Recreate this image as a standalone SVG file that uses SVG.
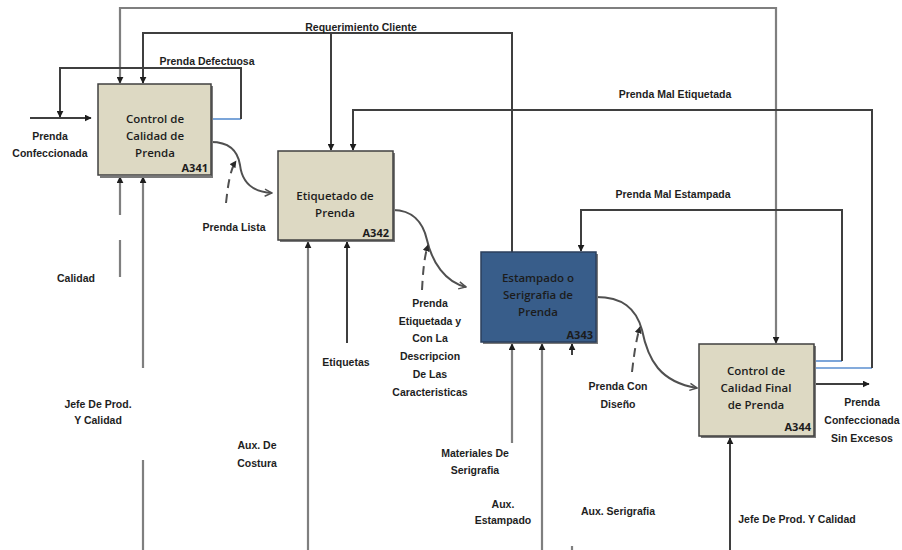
<svg xmlns="http://www.w3.org/2000/svg" width="902" height="550" viewBox="0 0 902 550">
<defs>
<marker id="ah" viewBox="0 0 10 10" refX="9" refY="5" markerWidth="7" markerHeight="7" markerUnits="userSpaceOnUse" orient="auto">
<path d="M0,0 L10,5 L0,10 z" fill="#1e1e1e"/>
</marker>
<marker id="oa" viewBox="0 0 10 10" refX="9" refY="5" markerWidth="9" markerHeight="9" markerUnits="userSpaceOnUse" orient="auto">
<path d="M1,1 L9,5 L1,9" fill="none" stroke="#505050" stroke-width="1.6"/>
</marker>
<marker id="ca" viewBox="0 0 10 10" refX="9" refY="5" markerWidth="7" markerHeight="7" markerUnits="userSpaceOnUse" orient="auto">
<path d="M0,0 L10,5 L0,10 z" fill="#2a2a2a"/>
</marker>
<style>
.box{fill:#ddd9c3;stroke:#404040;stroke-width:1.5}
.boxb{fill:#385d8a;stroke:#2b3f5c;stroke-width:1.5}
.sh{fill:none;stroke:#7a7a7a;stroke-width:2}
.bt{font-family:"Open Sans","Liberation Sans",sans-serif;font-size:11.5px;font-weight:600;fill:#1c1c1c;text-anchor:middle}
.id{font-family:"Open Sans","Liberation Sans",sans-serif;font-size:11px;font-weight:bold;fill:#1c1c1c;text-anchor:end}
.lb{font-family:"Liberation Sans","DejaVu Sans",sans-serif;font-size:10.5px;font-weight:bold;fill:#1e1e1e;text-anchor:middle}
.g{fill:none;stroke:#7f7f7f;stroke-width:2.2}
.d{fill:none;stroke:#3f3f3f;stroke-width:2}
.bl{fill:none;stroke:#5b8fd0;stroke-width:1.6}
.cv{fill:none;stroke:#505050;stroke-width:2}
.dash{fill:none;stroke:#505050;stroke-width:2;stroke-dasharray:9,6}
</style>
</defs>
<g id="connectors">
<path class="g" d="M448,8 H120 V83" marker-end="url(#ah)"/>
<path class="g" d="M448,8 H776 V343" marker-end="url(#ah)"/>
<path class="d" d="M512,252 V33 H143 V83" marker-end="url(#ah)"/>
<path class="d" d="M331,33 V150" marker-end="url(#ah)"/>
<path class="bl" d="M211,119 H241"/>
<path class="d" d="M241,119 V68 H60 V117" marker-end="url(#ah)"/>
<path class="d" d="M30,118 H91" marker-end="url(#ah)"/>
<path class="bl" d="M814,368 H872"/>
<path class="d" d="M872,368 V110 H353 V150" marker-end="url(#ah)"/>
<path class="bl" d="M814,361 H842"/>
<path class="d" d="M842,361 V210 H581 V251" marker-end="url(#ah)"/>
<path class="d" d="M814,384 H869" marker-end="url(#ah)"/>
<path class="g" d="M120,277 V240 M120,215 V177" marker-end="url(#ah)"/>
<path class="g" d="M143,550 V460 M143,368 V177" marker-end="url(#ah)"/>
<path class="g" d="M308,550 V242" marker-end="url(#ah)"/>
<path class="d" d="M347,343 V242" marker-end="url(#ah)"/>
<path class="g" d="M512,443 V344" marker-end="url(#ah)"/>
<path class="g" d="M542,550 V344" marker-end="url(#ah)"/>
<path class="d" d="M572,355 V344" marker-end="url(#ah)"/>
<path class="g" d="M572,546 V550"/>
<path class="d" d="M730,550 V438" marker-end="url(#ah)"/>
<path class="cv" d="M211,142 C230,142 238,152 240,165 C242,182 252,192 272,193" marker-end="url(#oa)"/>
<path class="dash" d="M226,203 C228,185 230,170 236,161" marker-end="url(#ca)"/>
<path class="cv" d="M393,210 C412,210 423,222 427,240 C432,262 445,282 466,287" marker-end="url(#oa)"/>
<path class="dash" d="M422,290 C423,272 424,258 428,245" marker-end="url(#ca)"/>
<path class="cv" d="M596,297 C622,297 636,308 642,330 C648,360 660,382 697,388" marker-end="url(#oa)"/>
<path class="dash" d="M632,372 C634,355 636,340 640,327" marker-end="url(#ca)"/>
</g>
<g id="A341">
<path class="sh" d="M212,86 V177 H100"/>
<rect class="box" x="98" y="84" width="113" height="91"/>
<text class="bt" x="155" y="123">Control de</text>
<text class="bt" x="155" y="140">Calidad de</text>
<text class="bt" x="155" y="157">Prenda</text>
<text class="id" x="208" y="172">A341</text>
</g>
<g id="A342">
<path class="sh" d="M394,153 V241 H280"/>
<rect class="box" x="278" y="151" width="115" height="89"/>
<text class="bt" x="335" y="200">Etiquetado de</text>
<text class="bt" x="335" y="217">Prenda</text>
<text class="id" x="389" y="237">A342</text>
</g>
<g id="A343">
<path class="sh" d="M597,254 V343 H483"/>
<rect class="boxb" x="481" y="252" width="115" height="90"/>
<text class="bt" x="538" y="282">Estampado o</text>
<text class="bt" x="538" y="299">Serigrafia de</text>
<text class="bt" x="538" y="316">Prenda</text>
<text class="id" x="593" y="339">A343</text>
</g>
<g id="A344">
<path class="sh" d="M815,346 V437 H701"/>
<rect class="box" x="699" y="344" width="115" height="92"/>
<text class="bt" x="756" y="375">Control de</text>
<text class="bt" x="756" y="392">Calidad Final</text>
<text class="bt" x="756" y="409">de Prenda</text>
<text class="id" x="811" y="431">A344</text>
</g>
<g id="labels">
<text class="lb" x="361" y="31">Requerimiento Cliente</text>
<text class="lb" x="207" y="65">Prenda Defectuosa</text>
<text class="lb" x="50" y="140">Prenda</text>
<text class="lb" x="50" y="157">Confeccionada</text>
<text class="lb" x="675" y="98">Prenda Mal Etiquetada</text>
<text class="lb" x="673" y="198">Prenda Mal Estampada</text>
<text class="lb" x="234" y="231">Prenda Lista</text>
<text class="lb" x="76" y="282">Calidad</text>
<text class="lb" x="346" y="366">Etiquetas</text>
<text class="lb" x="430" y="307">Prenda</text>
<text class="lb" x="430" y="325">Etiquetada y</text>
<text class="lb" x="430" y="342">Con La</text>
<text class="lb" x="430" y="360">Descripcion</text>
<text class="lb" x="430" y="378">De Las</text>
<text class="lb" x="430" y="396">Caracteristicas</text>
<text class="lb" x="98" y="408">Jefe De Prod.</text>
<text class="lb" x="98" y="424">Y Calidad</text>
<text class="lb" x="257" y="449">Aux. De</text>
<text class="lb" x="257" y="467">Costura</text>
<text class="lb" x="475" y="457">Materiales De</text>
<text class="lb" x="475" y="474">Serigrafia</text>
<text class="lb" x="503" y="508">Aux.</text>
<text class="lb" x="503" y="524">Estampado</text>
<text class="lb" x="618" y="515">Aux. Serigrafia</text>
<text class="lb" x="797" y="523">Jefe De Prod. Y Calidad</text>
<text class="lb" x="618" y="390">Prenda Con</text>
<text class="lb" x="618" y="408">Diseño</text>
<text class="lb" x="862" y="406">Prenda</text>
<text class="lb" x="862" y="424">Confeccionada</text>
<text class="lb" x="862" y="442">Sin Excesos</text>
</g>
</svg>
